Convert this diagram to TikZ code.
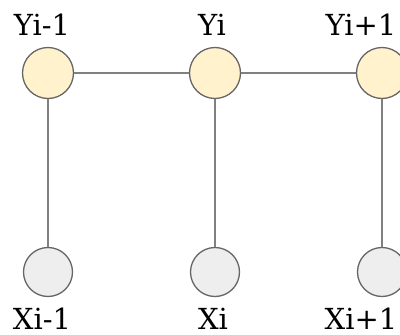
\documentclass[tikz,border=0pt]{standalone}
\usepackage{fontspec}
\setmainfont{DejaVu Serif}
\definecolor{yfill}{HTML}{FFF2CC}
\definecolor{xfill}{HTML}{EEEEEE}
\definecolor{edgegray}{HTML}{808080}
\definecolor{rimgray}{HTML}{666666}
\tikzset{
  ynode/.style={draw=rimgray, line width=1.3pt, circle, fill=yfill, minimum size=51pt, inner sep=0pt},
  xnode/.style={draw=rimgray, line width=1.3pt, circle, fill=xfill, minimum size=49pt, inner sep=0pt},
  varlabel/.style={font=\fontsize{29}{32}\selectfont, inner sep=0pt, anchor=base}
}
\begin{document}
\begin{tikzpicture}[x=1pt, y=-1pt]
\useasboundingbox (0,0) rectangle (400,335);
\node[ynode] (y1) at (48,73) {};
\node[ynode] (y2) at (215,73) {};
\node[ynode] (y3) at (382,73) {};
\node[xnode] (x1) at (48,272) {};
\node[xnode] (x2) at (215,272) {};
\node[xnode] (x3) at (382,272) {};
\node[varlabel] (ly1) at (42,35) {Yi-1};
\node[varlabel] (ly2) at (212,35) {Yi};
\node[varlabel] (ly3) at (361,35) {Yi+1};
\node[varlabel] (lx1) at (42,329) {Xi-1};
\node[varlabel] (lx2) at (213,329) {Xi};
\node[varlabel] (lx3) at (361,329) {Xi+1};
\path[draw,line width=1.7pt,edgegray] (y1) -- (y2);
\path[draw,line width=1.7pt,edgegray] (y2) -- (y3);
\path[draw,line width=1.7pt,edgegray] (y1) -- (x1);
\path[draw,line width=1.7pt,edgegray] (y2) -- (x2);
\path[draw,line width=1.7pt,edgegray] (y3) -- (x3);
\end{tikzpicture}
\end{document}
